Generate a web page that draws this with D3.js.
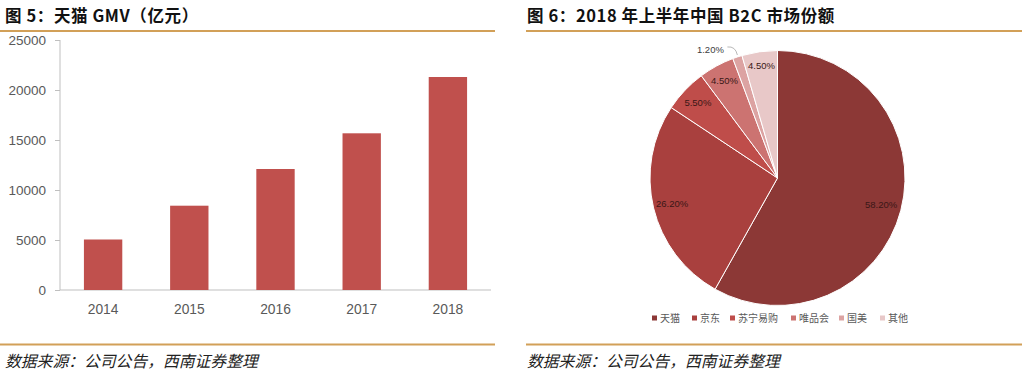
<!DOCTYPE html>
<html><head><meta charset="utf-8">
<script src="https://cdn.jsdelivr.net/npm/d3@7"></script>
<style>
html,body{margin:0;padding:0;background:#fff;}
svg{display:block;}
</style></head>
<body>
<svg id="c" width="1035" height="376"></svg>
<script>
// ---- data ----
const barCategories = ["2014","2015","2016","2017","2018"];
const barValues = [5050, 8430, 12100, 15670, 21300];
const yTicks = [0, 5000, 10000, 15000, 20000, 25000];

const pieCategories = ["天猫","京东","苏宁易购","唯品会","国美","其他"];
const pieValues = [58.2, 26.2, 5.5, 4.5, 1.2, 4.5];
const pieLabels = ["58.20%","26.20%","5.50%","4.50%","1.20%","4.50%"];
const pieColors = ["#8c3836","#a9403e","#bf4d4a","#cc7371","#dca3a2","#e8c8c8"];

const titleLeft = "图 5：天猫 GMV（亿元）";
const titleRight = "图 6：2018 年上半年中国 B2C 市场份额";
const sourceText = "数据来源：公司公告，西南证券整理";

const svg = d3.select("#c");
const gold = "#d2a058";
const cjk = "'Noto Sans CJK SC','Noto Sans',sans-serif";
const latin = "'Liberation Sans',Arial,sans-serif";

// ---- headers & footers ----
[[5, 0, 495, titleLeft], [527, 526, 1022, titleRight]].forEach(([tx, x0, x1, t]) => {
  svg.append("text").attr("x", tx).attr("y", 22).text(t)
    .attr("font-family", cjk).attr("font-weight", "bold").attr("font-size", 16.5)
    .attr("letter-spacing", 0.6).attr("fill", "#111");
  svg.append("line").attr("x1", x0).attr("x2", x1).attr("y1", 31).attr("y2", 31)
    .attr("stroke", gold).attr("stroke-width", 2);
  svg.append("line").attr("x1", x0).attr("x2", x1).attr("y1", 344.5).attr("y2", 344.5)
    .attr("stroke", gold).attr("stroke-width", 2);
  svg.append("text").attr("x", tx).attr("y", 367).text(sourceText)
    .attr("font-family", cjk).attr("font-style", "italic").attr("font-size", 15.8).attr("fill", "#222");
});

// ---- bar chart ----
const x = d3.scaleBand().domain(barCategories).range([60, 491]).paddingInner(0.555).paddingOuter(0.2775);
const y = d3.scaleLinear().domain([0, 25000]).range([290, 40]);

const yAxis = svg.append("g").attr("transform", "translate(60,0)")
  .call(d3.axisLeft(y).tickValues(yTicks).tickSize(5).tickPadding(9).tickFormat(d3.format("d")));
yAxis.select(".domain").attr("stroke", "#bfbfbf").attr("d", "M0,40V290");
yAxis.selectAll(".tick line").attr("stroke", "#bfbfbf");
yAxis.selectAll("text").attr("font-family", latin).attr("font-size", 13.5).attr("fill", "#595959");

const xAxis = svg.append("g").attr("transform", "translate(0,290)")
  .call(d3.axisBottom(x).tickSize(0).tickPadding(14));
xAxis.select(".domain").attr("stroke", "#bfbfbf").attr("d", "M60,0H491");
xAxis.selectAll("text").attr("font-family", latin).attr("font-size", 13.8).attr("fill", "#595959");

svg.append("g").selectAll("rect").data(barValues).join("rect")
  .attr("x", (d, i) => x(barCategories[i]))
  .attr("width", x.bandwidth())
  .attr("y", d => y(d))
  .attr("height", d => y(0) - y(d))
  .attr("fill", "#c0504d");

// ---- pie chart ----
const cx = 777.5, cy = 178, R = 127.5;
const pie = d3.pie().sort(null).value(d => d)(pieValues);
const arc = d3.arc().innerRadius(0).outerRadius(R);
const g = svg.append("g").attr("transform", `translate(${cx},${cy})`);
g.selectAll("path").data(pie).join("path")
  .attr("d", arc).attr("fill", (d, i) => pieColors[i])
  .attr("stroke", "#fff").attr("stroke-width", 1);

const labelR = [0.84, 0.85, 0.86, 0.87, 1.0, 0.89];
pie.forEach((d, i) => {
  const a = (d.startAngle + d.endAngle) / 2;
  if (i === 4) {
    const ex = R * Math.sin(a), ey = -R * Math.cos(a);
    const lx = ex - 22, ly = ey - 7;
    g.append("path").attr("d", `M${lx + 12},${ly - 3}Q${ex - 2},${ly - 4} ${ex},${ey - 2}`)
      .attr("fill", "none").attr("stroke", "#a6a6a6").attr("stroke-width", 0.8);
    g.append("text").attr("x", lx - 5).attr("y", ly).attr("text-anchor", "middle").attr("dy", "0.35em")
      .text(pieLabels[i]).attr("font-family", latin).attr("font-size", 9.5).attr("fill", "#404040");
    return;
  }
  const r = R * labelR[i];
  g.append("text").attr("x", r * Math.sin(a)).attr("y", -r * Math.cos(a))
    .attr("text-anchor", "middle").attr("dy", "0.35em").text(pieLabels[i])
    .attr("font-family", latin).attr("font-size", 9.5).attr("fill", "#3a1716");
});

// legend
const legendX = [652, 692, 730, 791, 839, 880];
const lg = svg.append("g");
pieCategories.forEach((c, i) => {
  lg.append("rect").attr("x", legendX[i]).attr("y", 315.5).attr("width", 5).attr("height", 5).attr("fill", pieColors[i]);
  lg.append("text").attr("x", legendX[i] + 8).attr("y", 318).attr("dy", "0.35em").text(c)
    .attr("font-family", cjk).attr("font-size", 10).attr("fill", "#595959");
});
</script>
</body></html>
